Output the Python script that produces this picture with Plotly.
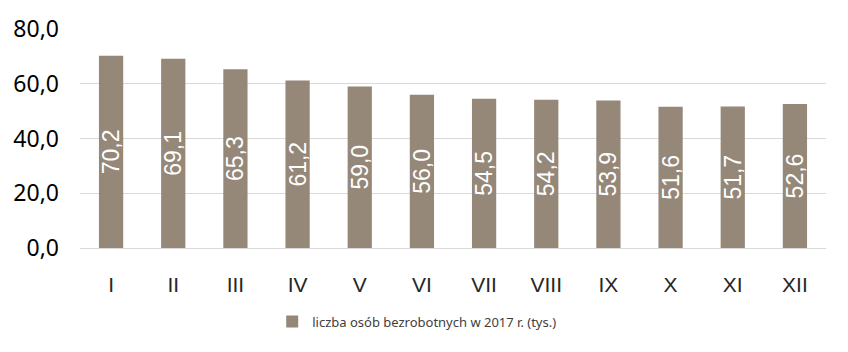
import plotly.graph_objects as go

months = ["I", "II", "III", "IV", "V", "VI", "VII", "VIII", "IX", "X", "XI", "XII"]
values = [70.2, 69.1, 65.3, 61.2, 59.0, 56.0, 54.5, 54.2, 53.9, 51.6, 51.7, 52.6]
series_name = "liczba osób bezrobotnych w 2017 r. (tys.)"
y_ticks = [0, 20, 40, 60, 80]

labels = [f"{v:.1f}".replace(".", ",") for v in values]

fig = go.Figure()
fig.add_trace(go.Bar(
    x=months, y=values, name=series_name,
    marker=dict(color="#958879", line=dict(width=0)),
    text=labels, textposition="inside", textangle=-90,
    insidetextanchor="middle", constraintext="none",
    textfont=dict(color="white", size=23, family="Liberation Sans"),
    showlegend=True,
))

fig.update_layout(
    width=848, height=352,
    margin=dict(l=80, r=22, t=25, b=104),
    paper_bgcolor="white", plot_bgcolor="white",
    separators=", ",
    bargap=0.61,
    uniformtext=dict(minsize=23, mode="show"),
    showlegend=True,
    legend=dict(orientation="h", x=0.452, xanchor="center", y=-0.336, yanchor="middle",
                itemwidth=30,
                font=dict(size=13, family="Noto Sans", color="#404040")),
    xaxis=dict(showgrid=False, showline=False, ticks="", ticklabelstandoff=22,
               tickfont=dict(size=21, family="Liberation Sans", color="#262626")),
    yaxis=dict(range=[0, 80], tickvals=y_ticks, tickformat=".1f",
               showgrid=True, gridcolor="#d9d9d9", gridwidth=1,
               zeroline=True, zerolinecolor="#d9d9d9", zerolinewidth=1,
               showline=False, ticks="", ticklabelstandoff=20,
               tickfont=dict(size=23, family="Noto Sans", color="#000000")),
)

fig.write_html("out.html")
